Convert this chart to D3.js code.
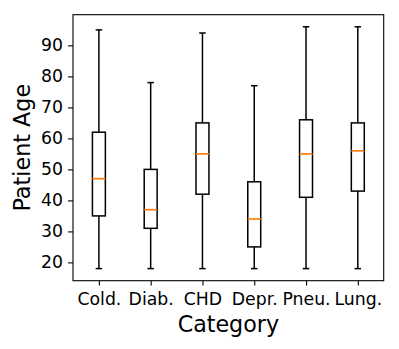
<!DOCTYPE html>
<html><head><meta charset="utf-8">
<script src="https://cdn.jsdelivr.net/npm/d3@7"></script>
<style>body{margin:0;background:#fff}svg{display:block}text{font-family:"DejaVu Sans",sans-serif;fill:#000}</style>
</head><body><div id="c"></div>
<script>
const categories = ["Cold.", "Diab.", "CHD", "Depr.", "Pneu.", "Lung."];
const whiskerLow = [18, 18, 18, 18, 18, 18];
const q1 = [35, 31, 42, 25, 41, 43];
const median = [47, 37, 55, 34, 55, 56];
const q3 = [62, 50, 65, 46, 66, 65];
const whiskerHigh = [95, 78, 94, 77, 96, 96];
const yTicks = [20, 30, 40, 50, 60, 70, 80, 90];

const W = 399, H = 349;
const m = {left: 73, top: 14.7, right: 383.7, bottom: 280.7};
const svg = d3.select("#c").append("svg").attr("width", W).attr("height", H);

const x = d3.scaleLinear().domain([0.5, 6.5]).range([m.left, m.right]);
const y = d3.scaleLinear().domain([14.1, 99.9]).range([m.bottom, m.top]);

const data = categories.map((c, i) => ({c, i: i + 1, lo: whiskerLow[i], q1: q1[i], med: median[i], q3: q3[i], hi: whiskerHigh[i]}));
const lw = 1.5;
const g = svg.append("g");
const bw = x(0.75) - x(0.5);
const cw = x(0.625) - x(0.5);
data.forEach(d => {
  const cx = x(d.i);
  const s = g.append("g").attr("stroke", "#000").attr("stroke-width", lw).attr("fill", "none");
  s.append("line").attr("x1", cx).attr("x2", cx).attr("y1", y(d.q3)).attr("y2", y(d.hi));
  s.append("line").attr("x1", cx).attr("x2", cx).attr("y1", y(d.q1)).attr("y2", y(d.lo));
  s.append("line").attr("x1", cx - cw / 2).attr("x2", cx + cw / 2).attr("y1", y(d.hi)).attr("y2", y(d.hi));
  s.append("line").attr("x1", cx - cw / 2).attr("x2", cx + cw / 2).attr("y1", y(d.lo)).attr("y2", y(d.lo));
  s.append("rect").attr("x", cx - bw / 2).attr("width", bw).attr("y", y(d.q3)).attr("height", y(d.q1) - y(d.q3));
  g.append("line").attr("x1", cx - bw / 2).attr("x2", cx + bw / 2).attr("y1", y(d.med)).attr("y2", y(d.med))
    .attr("stroke", "#ff7f0e").attr("stroke-width", 1.7);
});

const xAxis = d3.axisBottom(x).tickValues(data.map(d => d.i)).tickFormat(v => categories[v - 1]).tickSize(4.9).tickPadding(7);
const yAxis = d3.axisLeft(y).tickValues(yTicks).tickSize(4.9).tickPadding(5);
const gx = svg.append("g").attr("transform", `translate(0,${m.bottom})`).call(xAxis);
const gy = svg.append("g").attr("transform", `translate(${m.left},0)`).call(yAxis);
[gx, gy].forEach(a => {
  a.select(".domain").remove();
  a.selectAll(".tick line").attr("stroke", "#000").attr("stroke-width", 1.1);
  a.selectAll("text").attr("font-size", 17.3).attr("font-family", "DejaVu Sans").attr("fill", "#000");
});

svg.append("rect").attr("x", m.left).attr("y", m.top).attr("width", m.right - m.left).attr("height", m.bottom - m.top)
  .attr("fill", "none").attr("stroke", "#000").attr("stroke-width", 1.1);

svg.append("text").attr("x", (m.left + m.right) / 2).attr("y", 331.5).attr("text-anchor", "middle").attr("font-size", 22.2).text("Category");
svg.append("text").attr("transform", `translate(30.4,${(m.top + m.bottom) / 2}) rotate(-90)`).attr("text-anchor", "middle").attr("font-size", 22.3).text("Patient Age");
</script></body></html>
